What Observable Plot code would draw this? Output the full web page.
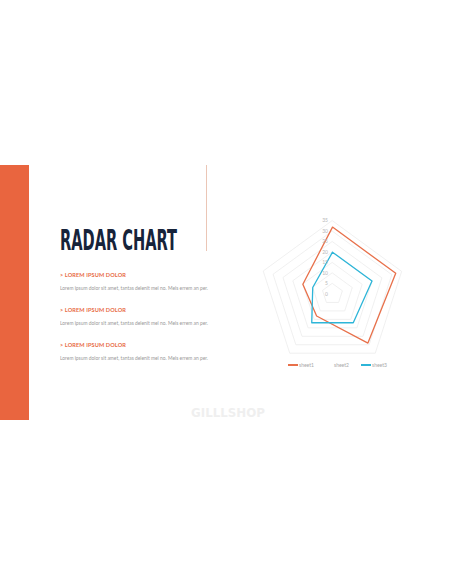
<!DOCTYPE html>
<html>
<head>
<meta charset="utf-8">
<script src="https://cdn.jsdelivr.net/npm/d3@7"></script>
<script src="https://cdn.jsdelivr.net/npm/@observablehq/plot@0.6"></script>
<style>
  html, body { margin: 0; padding: 0; background: #ffffff; }
  #page { position: relative; width: 456px; height: 586px; background: #ffffff; overflow: hidden; }
</style>
</head>
<body>
<div id="page"></div>
<script>
// ---- data ----
const categories = ["A", "B", "C", "D", "E"];
const seriesNames = ["sheet1", "sheet2", "sheet3"];
const sheet1 = [32, 32, 29, 13, 15];
const sheet2 = [];            // series present in legend, no visible line
const sheet3 = [20, 20, 17, 17, 10];
const tickValues = [0, 5, 10, 15, 20, 25, 30, 35];
const seriesColors = ["#E8704A", "#cccccc", "#2DB5D8"];
const title = "RADAR CHART";
const bulletHeads = ["> LOREM IPSUM DOLOR", "> LOREM IPSUM DOLOR", "> LOREM IPSUM DOLOR"];
const bulletBody = "Lorem ipsum dolor sit amet, tantas delenit mei no. Meis errem an per.";
const watermark = "GILLLSHOP";

const page = document.getElementById("page");
function el(tag, css, text) {
  const e = document.createElement(tag);
  e.style.cssText = css;
  if (text != null) e.textContent = text;
  page.appendChild(e);
  return e;
}
function fitText(e, w) {
  const r = e.getBoundingClientRect().width;
  if (r > 0) e.style.transform = `scaleX(${w / r})`;
}

// ---- slide decoration ----
el("div", "position:absolute;left:0;top:165px;width:29px;height:255px;background:#E9653F;");
el("div", "position:absolute;left:206px;top:165px;width:1px;height:86px;background:#EBC6B6;");

// title
const t = el("div", "position:absolute;left:60px;top:227px;font-family:'DejaVu Sans Condensed','DejaVu Sans',sans-serif;font-weight:bold;font-size:28px;line-height:28px;color:#16233A;white-space:nowrap;transform-origin:0 50%;", title);
fitText(t, 117);

// bullets
const headY = [275, 310, 345];
const bodyY = [288, 323, 358];
bulletHeads.forEach((h, i) => {
  const a = el("div", `position:absolute;left:60px;top:${headY[i] - 3}px;font-family:Lato,'Open Sans',sans-serif;font-weight:bold;font-size:5.4px;line-height:6px;color:#E86A45;white-space:nowrap;transform-origin:0 50%;letter-spacing:0.1px;`, h);
  fitText(a, 66);
  const b = el("div", `position:absolute;left:60px;top:${bodyY[i] - 3}px;font-family:Lato,'Open Sans',sans-serif;font-size:5.2px;line-height:6px;color:#999999;white-space:nowrap;transform-origin:0 50%;`, bulletBody);
  fitText(b, 148);
});

// watermark
const wm = el("div", "position:absolute;left:191px;top:406px;font-family:'DejaVu Sans',sans-serif;font-weight:bold;font-size:13px;line-height:13px;color:#EFEFEF;white-space:nowrap;transform-origin:0 50%;", watermark);
fitText(wm, 74);

// ---- radar chart ----
const n = categories.length;
const angle = i => 2 * Math.PI * i / n;
const toPts = (vals, name) => vals.map((v, i) => ({series: name, i, v,
  x: v * Math.sin(angle(i)), y: v * Math.cos(angle(i))}));
const ringPts = tickValues.slice(1).flatMap(r =>
  categories.map((c, i) => ({ring: r, x: r * Math.sin(angle(i)), y: r * Math.cos(angle(i))})));
const seriesPts = [...toPts(sheet1, "sheet1"), ...toPts(sheet2, "sheet2"), ...toPts(sheet3, "sheet3")];

const chart = Plot.plot({
  width: 160,
  height: 161,
  margin: 0,
  x: {domain: [-38.5, 38.5], axis: null},
  y: {domain: [-38.5, 38.5], axis: null},
  color: {domain: seriesNames, range: seriesColors},
  style: {background: "transparent", overflow: "visible"},
  marks: [
    Plot.line(ringPts, {x: "x", y: "y", z: "ring", curve: "linear-closed", stroke: "#ECECEC", strokeWidth: 0.8}),
    Plot.line(seriesPts, {x: "x", y: "y", z: "series", stroke: "series", curve: "linear-closed", strokeWidth: 1.3}),
    Plot.text(tickValues, {x: () => 0, y: d => d, text: d => String(d), textAnchor: "end", dx: -4.5,
      fontSize: 5, fill: "#b8b8b8", fontFamily: "Lato, sans-serif"})
  ]
});
chart.style.position = "absolute";
chart.style.left = "252px";
chart.style.top = "213px";
page.appendChild(chart);

// legend
const legendX = [288, 323, 361];
seriesNames.forEach((s, i) => {
  const hasLine = s !== "sheet2";
  if (hasLine) el("div", `position:absolute;left:${legendX[i]}px;top:364.3px;width:10px;height:1.5px;background:${seriesColors[i]};`);
  el("div", `position:absolute;left:${hasLine ? legendX[i] + 11 : 334}px;top:362px;font-family:Lato,sans-serif;font-size:5px;line-height:6px;color:#a8a8a8;white-space:nowrap;`, s);
});
</script>
</body>
</html>
